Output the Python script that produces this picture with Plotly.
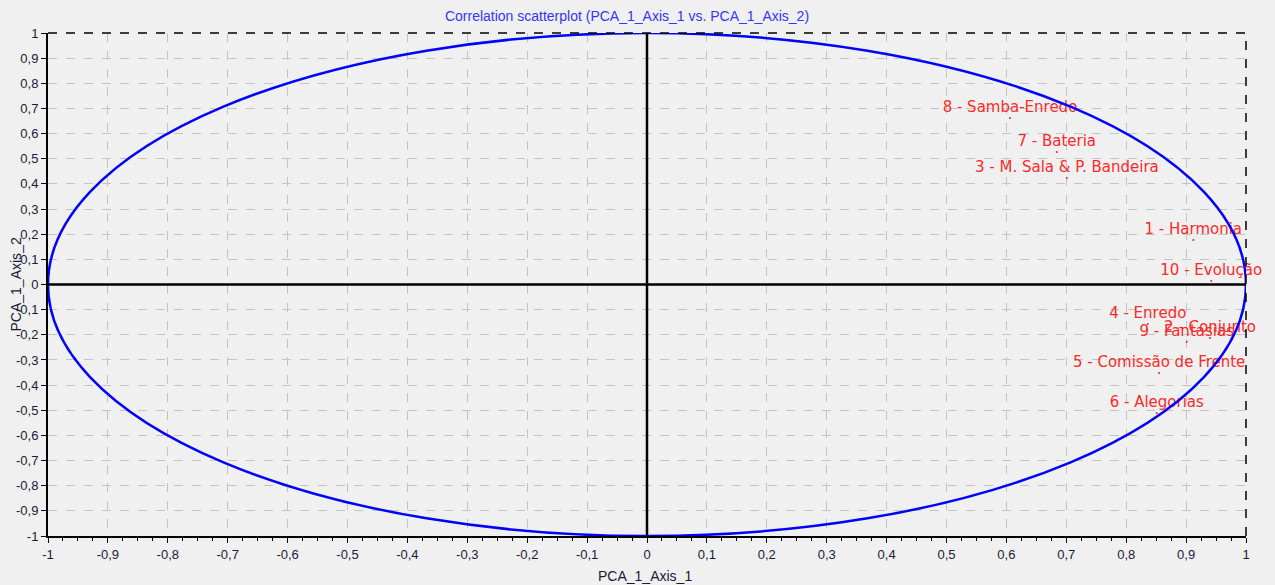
import plotly.graph_objects as go

labels = ["1 - Harmonia", "2 - Conjunto", "3 - M. Sala & P. Bandeira", "4 - Enredo",
          "5 - Comissão de Frente", "6 - Alegorias", "7 - Bateria", "8 - Samba-Enredo",
          "9 - Fantasias", "10 - Evolução"]
axis1 = [0.912, 0.940, 0.701, 0.836, 0.855, 0.851, 0.684, 0.606, 0.901, 0.942]
axis2 = [0.177, -0.213, 0.423, -0.157, -0.352, -0.511, 0.527, 0.662, -0.229, 0.014]

tickvals = [round(-1 + 0.1 * i, 1) for i in range(21)]
ticktext = [("%g" % v).replace(".", ",") for v in tickvals]

fig = go.Figure()
fig.add_trace(go.Scatter(
    x=axis1, y=axis2, mode="markers+text", text=labels, textposition="top center",
    marker=dict(color="#ff2020", size=2),
    textfont=dict(color="#ff2a2a", size=15, family="DejaVu Sans"),
    cliponaxis=False, hoverinfo="skip", showlegend=False))

# unit correlation circle
fig.add_shape(type="circle", xref="x", yref="y", x0=-1, y0=-1, x1=1, y1=1,
              line=dict(color="#0000ff", width=2.5), layer="above")
# zero lines
fig.add_shape(type="line", xref="x", yref="y", x0=-1, x1=1, y0=0, y1=0,
              line=dict(color="black", width=2.5), layer="above")
fig.add_shape(type="line", xref="x", yref="y", x0=0, x1=0, y0=-1, y1=1,
              line=dict(color="black", width=2.5), layer="above")
# dashed border top and right
fig.add_shape(type="line", xref="paper", yref="paper", x0=0, x1=1, y0=1, y1=1,
              line=dict(color="black", width=1.5, dash="dash"))
fig.add_shape(type="line", xref="paper", yref="paper", x0=1, x1=1, y0=0, y1=1,
              line=dict(color="black", width=1.5, dash="dash"))

axis_common = dict(
    range=[-1, 1], tickmode="array", tickvals=tickvals, ticktext=ticktext,
    showgrid=True, gridcolor="#c4c4c4", griddash="dash", gridwidth=1,
    zeroline=False, showline=True, linecolor="black", linewidth=2,
    ticks="outside", ticklen=5, tickcolor="black",
    tickfont=dict(family="Liberation Sans", size=13, color="#1a1a3a"),
)
fig.update_xaxes(**axis_common,
                 minor=dict(dtick=0.025, ticks="outside", ticklen=3, tickcolor="black", showgrid=False))
fig.update_yaxes(**axis_common)

fig.update_layout(
    width=1275, height=585,
    margin=dict(l=48, r=29, t=33, b=49),
    paper_bgcolor="#f0f0f0", plot_bgcolor="#f0f0f0",
    title=dict(text="Correlation scatterplot (PCA_1_Axis_1 vs. PCA_1_Axis_2)",
               x=(443 + 811) / 2 / 1275, xanchor="center", y=1 - 16 / 585, yanchor="middle",
               font=dict(family="Liberation Sans", size=14, color="#3535ff")),
    annotations=[
        dict(text="PCA_1_Axis_1", xref="paper", yref="paper", x=(645 - 48) / 1198, y=-40 / 503,
             xanchor="center", yanchor="middle", showarrow=False,
             font=dict(family="Liberation Sans", size=14, color="#1a1a3a")),
        dict(text="PCA_1_Axis_2", xref="paper", yref="paper", x=-33 / 1198, y=0.5,
             xanchor="center", yanchor="middle", textangle=-90, showarrow=False,
             font=dict(family="Liberation Sans", size=14, color="#1a1a3a")),
    ],
)

fig.write_html("out.html", config={"displayModeBar": False},
               post_script="document.body.style.margin='0px';")
